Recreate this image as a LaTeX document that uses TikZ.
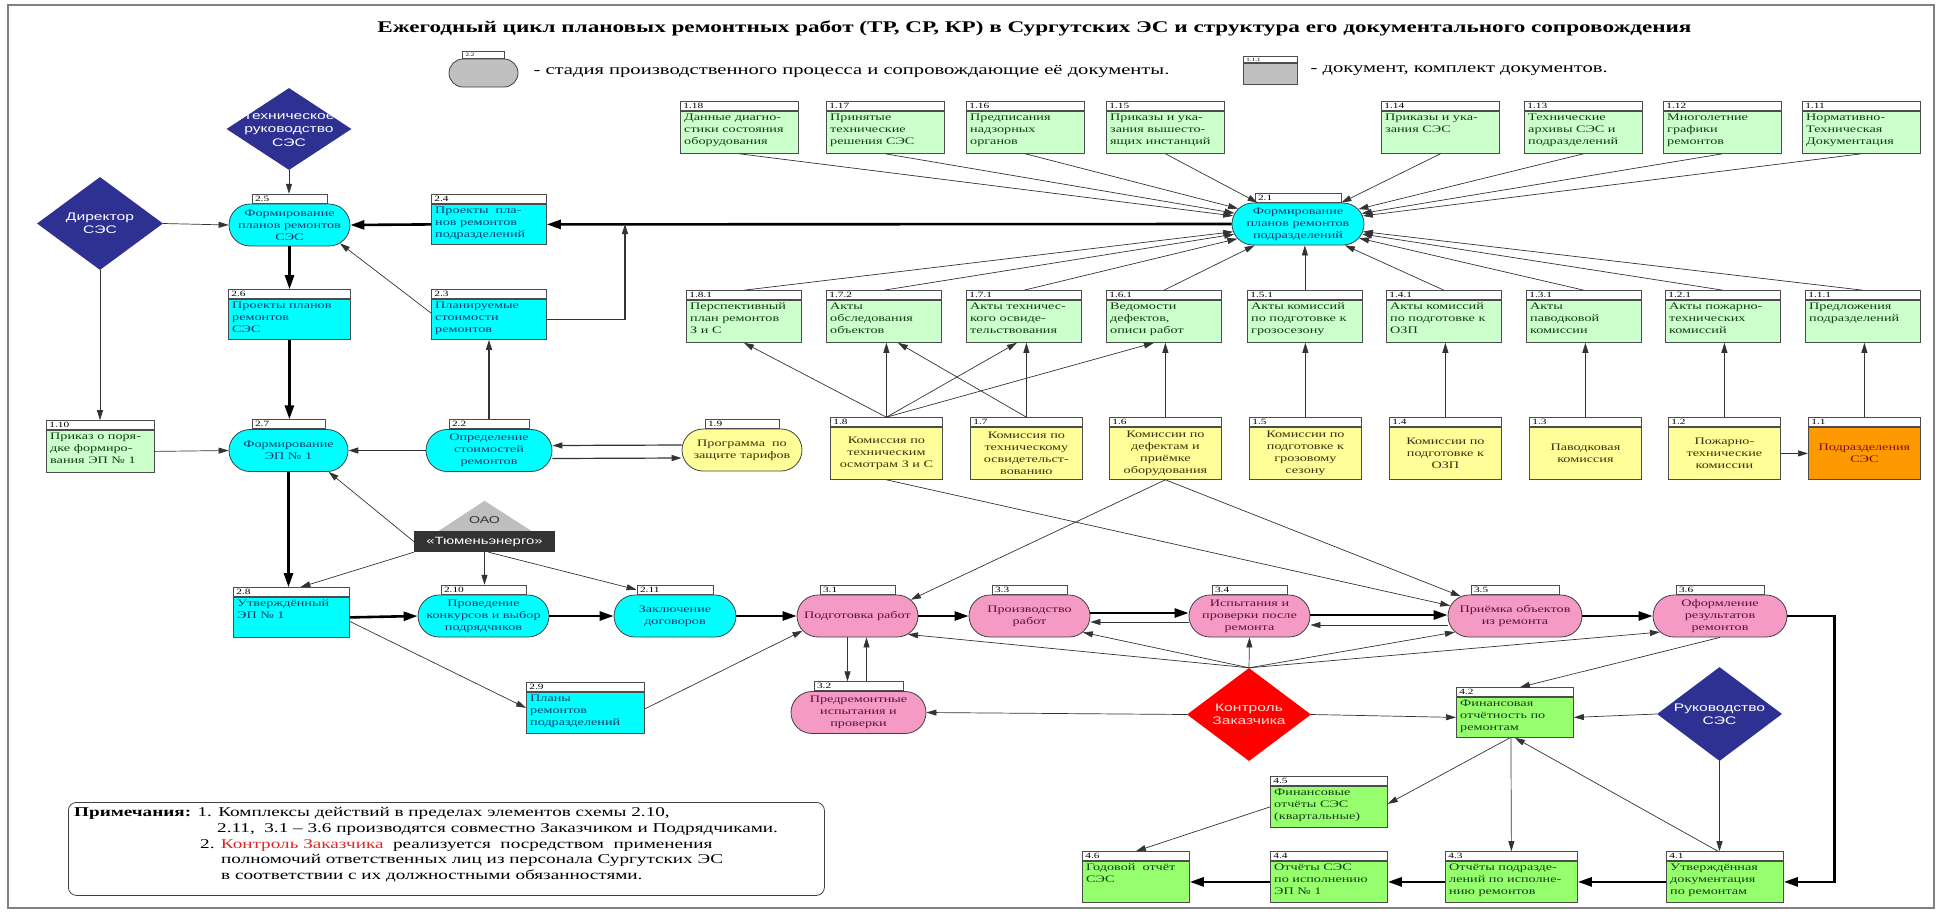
\documentclass[tikz,border=0pt]{standalone}
\usepackage{fontspec}
\setmainfont[FakeStretch=1.42]{Liberation Serif}
\newfontfamily\diafont[FakeStretch=1.42]{Liberation Sans}
\usetikzlibrary{shapes.geometric,shapes.misc,arrows.meta,positioning,calc}
\definecolor{cyanfill}{RGB}{0,255,255}
\definecolor{pinkfill}{RGB}{244,154,196}
\definecolor{yellowfill}{RGB}{255,255,153}
\definecolor{orangefill}{RGB}{255,153,0}
\definecolor{palegreen}{RGB}{204,255,204}
\definecolor{limegreen}{RGB}{150,255,110}
\definecolor{navydia}{RGB}{46,49,146}
\definecolor{reddia}{RGB}{255,0,0}
\definecolor{oaogray}{RGB}{190,190,190}
\definecolor{darkbox}{RGB}{51,51,51}
\definecolor{legendgray}{RGB}{192,192,192}
\definecolor{framegray}{RGB}{128,128,128}
\definecolor{cyantext}{RGB}{10,60,110}
\definecolor{pinktext}{RGB}{90,20,60}
\definecolor{greentext}{RGB}{20,60,20}
\definecolor{yellowtext}{RGB}{60,50,10}
\definecolor{orangetext}{RGB}{120,20,0}
\definecolor{ctrlred}{RGB}{220,40,40}
\tikzset{
  docbody/.style={rectangle,draw=black!70,line width=0.8pt,inner sep=0pt,anchor=north west},
  dochead/.style={rectangle,draw=black!70,fill=white,line width=0.8pt,inner xsep=3pt,inner ysep=0pt,
    minimum height=9pt,text height=6.5pt,text depth=1.5pt,align=left,anchor=south west,
    font=\fontsize{8}{8}\selectfont},
  doctext/.style={inner xsep=4pt,inner ysep=2.5pt,align=left,anchor=north west,font=\fontsize{10}{12}\selectfont},
  stage/.style={rounded rectangle,draw=black!75,line width=0.8pt,inner sep=0pt,minimum height=42pt},
  stagehead/.style={dochead,anchor=south},
  stlabel/.style={align=center,inner sep=0pt,font=\fontsize{10}{12}\selectfont},
  diabox/.style={diamond,draw=none,inner sep=0pt},
  diatext/.style={align=center,inner sep=0pt,font=\diafont\fontsize{11}{13.3}\selectfont},
  arr/.style={-{Triangle[length=10pt,width=6pt]},line width=0.7pt,draw=black!80},
  medarr/.style={arr,line width=1.2pt},
  fatarr/.style={-{Triangle[length=14pt,width=9pt]},line width=2.6pt,draw=black},
  notetext/.style={anchor=west,inner sep=0pt,font=\fontsize{13.5}{16}\selectfont}
}
\begin{document}
\begin{tikzpicture}[x=1pt,y=-1pt]
\useasboundingbox (0,0) rectangle (1943,911);
\draw[framegray,line width=1.5pt] (8,5) rectangle (1934,908);

% title and legend
\node[font=\fontsize{16.3}{20}\selectfont\bfseries] (title) at (1034.5,28)
  {Ежегодный цикл плановых ремонтных работ (ТР, СР, КР) в Сургутских ЭС и структура его документального сопровождения};
\node[stage,fill=legendgray,minimum width=69pt,minimum height=28pt] (lgst) at (483.5,73) {};
\node[stagehead,minimum height=7pt,text height=5pt,text depth=1pt,text width=36pt,font=\fontsize{5}{5}\selectfont] (lgsthd) at (lgst.north) {2.2};
\node[anchor=west,font=\fontsize{14.5}{16}\selectfont] (lgsttxt) at (530,71)
  {- стадия производственного процесса и сопровождающие её документы.};
\node[docbody,fill=legendgray,minimum width=54pt,minimum height=21pt] (lgdoc) at (1243,63) {};
\node[dochead,text width=48pt,minimum height=6pt,text height=4.5pt,text depth=0.5pt,font=\fontsize{5}{5}\selectfont] (lgdochd) at (lgdoc.north west) {1.1.1};
\node[anchor=west,font=\fontsize{14.5}{16}\selectfont] (lgdoctxt) at (1307,71) {- документ, комплект документов.};

% upper row of documents
\foreach \id/\num/\x/\txt in {
  1-18/1.18/680/{Данные диагно-\\стики состояния\\оборудования},
  1-17/1.17/826/{Принятые\\технические\\решения СЭС},
  1-16/1.16/966/{Предписания\\надзорных\\органов},
  1-15/1.15/1106/{Приказы и ука-\\зания вышесто-\\ящих инстанций},
  1-14/1.14/1381/{Приказы и ука-\\зания СЭС},
  1-13/1.13/1524/{Технические\\архивы СЭС и\\подразделений},
  1-12/1.12/1663/{Многолетние\\графики\\ремонтов},
  1-11/1.11/1802/{Нормативно-\\Техническая\\Документация}} {
  \node[docbody,fill=palegreen,minimum width=118pt,minimum height=42pt] (n\id) at (\x,111) {};
  \node[dochead,text width=112pt] (h\id) at (n\id.north west) {\num};
  \node[doctext,text=greentext] (t\id) at (n\id.north west) {\txt};
}

% acts of the commissions
\foreach \id/\num/\x/\txt in {
  1-8-1/1.8.1/686/{Перспективный\\план ремонтов\\З и С},
  1-7-2/1.7.2/826/{Акты\\обследования\\объектов},
  1-7-1/1.7.1/966/{Акты техничес-\\кого освиде-\\тельствования},
  1-6-1/1.6.1/1106/{Ведомости\\дефектов,\\описи работ},
  1-5-1/1.5.1/1247/{Акты комиссий\\по подготовке к\\грозосезону},
  1-4-1/1.4.1/1386/{Акты комиссий\\по подготовке к\\ОЗП},
  1-3-1/1.3.1/1526/{Акты\\паводковой\\комиссии},
  1-2-1/1.2.1/1665/{Акты пожарно-\\технических\\комиссий},
  1-1-1/1.1.1/1805/{Предложения\\подразделений}} {
  \node[docbody,fill=palegreen,minimum width=115pt,minimum height=42pt] (n\id) at (\x,300) {};
  \node[dochead,text width=109pt] (h\id) at (n\id.north west) {\num};
  \node[doctext,text=greentext] (t\id) at (n\id.north west) {\txt};
}

% commissions
\foreach \id/\num/\x/\txt in {
  1-8/1.8/830/{Комиссия по\\техническим\\осмотрам З и С},
  1-7/1.7/970/{Комиссия по\\техническому\\освидетельст-\\вованию},
  1-6/1.6/1109/{Комиссии по\\дефектам и\\приёмке\\оборудования},
  1-5/1.5/1249/{Комиссии по\\подготовке к\\грозовому\\сезону},
  1-4/1.4/1389/{Комиссии по\\подготовке к\\ОЗП},
  1-3/1.3/1529/{Паводковая\\комиссия},
  1-2/1.2/1668/{Пожарно-\\технические\\комиссии}} {
  \node[docbody,fill=yellowfill,text=yellowtext,minimum width=112pt,minimum height=52pt,
    align=center,font=\fontsize{10}{12}\selectfont] (n\id) at (\x,427) {\txt};
  \node[dochead,text width=106pt] (h\id) at (n\id.north west) {\num};
}
\node[docbody,fill=orangefill,text=orangetext,minimum width=112pt,minimum height=52pt,
  align=center,font=\fontsize{10}{12}\selectfont] (n1-1) at (1808,427) {Подразделения\\СЭС};
\node[dochead,text width=106pt] (h1-1) at (n1-1.north west) {1.1};

% other documents
\foreach \id/\num/\x/\y/\w/\h/\fc/\tc/\txt in {
  2-4/2.4/431/204/115/40/cyanfill/cyantext/{Проекты~ пла-\\нов ремонтов\\подразделений},
  2-6/2.6/228/299/122/40/cyanfill/cyantext/{Проекты планов\\ремонтов\\СЭС},
  2-3/2.3/431/299/115/40/cyanfill/cyantext/{Планируемые\\стоимости\\ремонтов},
  2-8/2.8/233/597/116/40/cyanfill/cyantext/{Утверждённый\\ЭП № 1},
  2-9/2.9/526/692/118/41/cyanfill/cyantext/{Планы\\ремонтов\\подразделений},
  1-10/1.10/46/430/108/42/palegreen/greentext/{Приказ о поря-\\дке формиро-\\вания ЭП № 1},
  4-2/4.2/1456/697/117/40/limegreen/greentext/{Финансовая\\отчётность по\\ремонтам},
  4-5/4.5/1270/786/117/41/limegreen/greentext/{Финансовые\\отчёты СЭС\\(квартальные)},
  4-1/4.1/1666/861/117/41/limegreen/greentext/{Утверждённая\\документация\\по ремонтам},
  4-3/4.3/1445/861/132/41/limegreen/greentext/{Отчёты подразде-\\лений по исполне-\\нию ремонтов},
  4-4/4.4/1270/861/117/41/limegreen/greentext/{Отчёты СЭС\\по исполнению\\ЭП № 1},
  4-6/4.6/1082/861/107/41/limegreen/greentext/{Годовой~ отчёт\\СЭС}} {
  \pgfmathsetmacro\hw{\w-6}
  \node[docbody,fill=\fc,minimum width=\w pt,minimum height=\h pt] (n\id) at (\x,\y) {};
  \node[dochead,text width=\hw pt] (h\id) at (n\id.north west) {\num};
  \node[doctext,text=\tc] (t\id) at (n\id.north west) {\txt};
}

% stages
\foreach \id/\num/\x/\y/\w/\fc/\tc/\txt in {
  2-5/2.5/289.5/225/121/cyanfill/cyantext/{Формирование\\планов ремонтов\\СЭС},
  2-1/2.1/1298/224/132/cyanfill/cyantext/{Формирование\\планов ремонтов\\подразделений},
  2-7/2.7/288.5/450.5/119/cyanfill/cyantext/{Формирование\\ЭП № 1},
  2-2/2.2/489/450.5/126/cyanfill/cyantext/{Определение\\стоимостей\\ремонтов},
  1-9/1.9/742/450/120/yellowfill/yellowtext/{Программа~ по\\защите тарифов},
  2-10/2.10/483.5/616/131/cyanfill/cyantext/{Проведение\\конкурсов и выбор\\подрядчиков},
  2-11/2.11/675/616/122/cyanfill/cyantext/{Заключение\\договоров},
  3-1/3.1/857.5/616/121/pinkfill/pinktext/{Подготовка работ},
  3-3/3.3/1029.5/616/121/pinkfill/pinktext/{Производство\\работ},
  3-4/3.4/1249.5/616/121/pinkfill/pinktext/{Испытания и\\проверки после\\ремонта},
  3-5/3.5/1515/616/134/pinkfill/pinktext/{Приёмка объектов\\из ремонта},
  3-6/3.6/1720/616/134/pinkfill/pinktext/{Оформление\\результатов\\ремонтов},
  3-2/3.2/858.5/712.5/135/pinkfill/pinktext/{Предремонтные\\испытания и\\проверки}} {
  \pgfmathsetmacro\hw{\w-52}
  \node[stage,fill=\fc,minimum width=\w pt] (s\id) at (\x,\y) {};
  \node[stagehead,text width=\hw pt] (h\id) at (s\id.north) {\num};
  \node[stlabel,text=\tc] (l\id) at (s\id) {\txt};
}

% managers
\node[diabox,fill=navydia,minimum width=125pt,minimum height=82pt] (tech) at (289,129) {};
\node[diatext,text=white] (techlbl) at (tech) {Техническое\\руководство\\СЭС};
\node[diabox,fill=navydia,minimum width=126pt,minimum height=93pt] (dir) at (100,223.5) {};
\node[diatext,text=white] (dirlbl) at (dir) {Директор\\СЭС};
\node[diabox,fill=reddia,minimum width=124pt,minimum height=93pt] (ctrl) at (1249,714.5) {};
\node[diatext,text=red!15] (ctrllbl) at (ctrl) {Контроль\\Заказчика};
\node[diabox,fill=navydia,minimum width=125pt,minimum height=94pt] (rk) at (1719.5,714) {};
\node[diatext,text=white] (rklbl) at (rk) {Руководство\\СЭС};
\node[rectangle,fill=darkbox,text=white,minimum width=141pt,minimum height=21pt,inner sep=0pt,
  font=\diafont\fontsize{10.5}{12}\selectfont] (ttt) at (484.5,541.5) {«Тюменьэнерго»};
\fill[oaogray] ($(ttt.north west)+(25,0)$) -- ($(ttt.north)+(0,-30)$) -- ($(ttt.north east)+(-24,0)$) -- cycle;
\node[font=\diafont\fontsize{10}{12}\selectfont,text=black!80] (oao) at ($(ttt.north)+(0,-11)$) {ОАО};

% notes
\node[docbody,draw=black!75,rounded corners=8pt,minimum width=756pt,minimum height=93pt] (notes) at (68,802) {};
\node[notetext] (note1) at (74,813) {\textbf{Примечания:} 1. Комплексы действий в пределах элементов схемы 2.10,};
\node[notetext] (note2) at (217,829) {2.11,~ 3.1 – 3.6 производятся совместно Заказчиком и Подрядчиками.};
\node[notetext] (note3) at (200,845) {2. \textcolor{ctrlred}{Контроль Заказчика}~ реализуется~ посредством~ применения};
\node[notetext] (note4) at (221,860) {полномочий ответственных лиц из персонала Сургутских ЭС};
\node[notetext] (note5) at (221,876) {в соответствии с их должностными обязанностями.};

% inputs of 2.1
\foreach \id in {1-18,1-17,1-16,1-15,1-14,1-13,1-12,1-11}
  \draw[arr] (n\id.south) -- (s2-1);
\foreach \id in {1-8-1,1-7-2,1-7-1,1-6-1,1-4-1,1-3-1,1-2-1,1-1-1}
  \draw[arr] (h\id.north) -- (s2-1);
\draw[arr] (h1-5-1.north) -- (h1-5-1.north |- s2-1.south);

% commissions to their acts
\draw[arr] (h1-8.north) -- (n1-8-1.south);
\draw[arr] (h1-8.north) -- (h1-8.north |- n1-7-2.south);
\draw[arr] (h1-8.north) -- ([xshift=-7pt]n1-7-1.south);
\draw[arr] (h1-8.north) -- ([xshift=-10pt]n1-6-1.south);
\draw[arr] (h1-7.north) -- ([xshift=14pt]n1-7-2.south);
\draw[arr] (h1-7.north) -- (h1-7.north |- n1-7-1.south);
\foreach \a/\b in {1-6/1-6-1,1-5/1-5-1,1-4/1-4-1,1-3/1-3-1,1-2/1-2-1,1-1/1-1-1}
  \draw[arr] (h\a.north) -- (h\a.north |- n\b.south);
\draw[arr] (n1-2.east) -- (n1-1.west);

% main flow
\draw[fatarr] (s2-1.west) -- (n2-4.east);
\draw[fatarr] (n2-4.west) -- (s2-5.east);
\draw[fatarr] (s2-5.south) -- (s2-5.south |- h2-6.north);
\draw[fatarr] (n2-6.south) -- (n2-6.south |- h2-7.north);
\draw[fatarr] (s2-7.south) -- (s2-7.south |- h2-8.north);
\draw[fatarr] (n2-8.east) -- (s2-10.west);
\draw[fatarr] (s2-10.east) -- (s2-11.west);
\draw[fatarr] (s2-11.east) -- (s3-1.west);
\draw[fatarr] (s3-1.east) -- (s3-3.west);
\draw[fatarr] ([yshift=3pt]s3-3.east) -- ([yshift=3pt]s3-4.west);
\draw[arr] ([yshift=-6pt]s3-4.west) -- ([yshift=-6pt]s3-3.east);
\draw[fatarr] ([yshift=1pt]s3-4.east) -- ([yshift=1pt]s3-5.west);
\draw[arr] ([yshift=-9pt]s3-5.west) -- ([yshift=-9pt]s3-4.east);
\draw[fatarr] (s3-5.east) -- (s3-6.west);
\draw[fatarr] (s3-6.east) -- ++(47,0) |- (n4-1.east);
\draw[fatarr] (n4-1.west) -- (n4-3.east);
\draw[fatarr] (n4-3.west) -- (n4-4.east);
\draw[fatarr] (n4-4.west) -- (n4-6.east);

% cost loop
\draw[medarr] (s2-2.west) -- (s2-7.east);
\draw[medarr] ([yshift=5pt]s1-9.west) -- ([yshift=5pt]s2-2.east);
\draw[medarr] ([yshift=-8pt]s2-2.east) -- ([yshift=-8pt]s1-9.west);
\draw[medarr] (h2-2.north) -- (h2-2.north |- n2-3.south);
\coordinate (jn) at (625,224);
\draw[medarr] (n2-3.east) -| (jn);

% control links
\draw[arr] (tech.south) -- (tech.south |- h2-5.north);
\draw[arr] (dir.east) -- (s2-5.west);
\draw[arr] (dir.south) -- (dir.south |- h1-10.north);
\draw[arr] (n1-10.east) -- (s2-7.west);
\draw[arr] ([yshift=-14pt]n2-3.north west) -- (s2-5.-20);
\draw[arr] (ttt.west) -- (s2-7.-28);
\draw[arr] (ttt.south west) -- ([xshift=9pt]h2-8.north);
\draw[arr] (ttt.south) -- (ttt.south |- h2-10.north);
\draw[arr] ([xshift=4pt]ttt.south) -- (h2-11.west);
\draw[arr] ([yshift=-4pt]n2-8.east) -- ([yshift=5pt]n2-9.west);
\draw[arr] ([yshift=4pt]n2-9.east) -- (s3-1.195);
\draw[arr] ([xshift=-10pt]s3-1.south) -- ([xshift=-11pt]h3-2.north);
\draw[arr] ([xshift=8pt]h3-2.north) -- ([xshift=9pt]s3-1.south);
\draw[arr] (ctrl.west) -- (s3-2.east);
\draw[arr] (ctrl.north) -- (s3-4.south);
\draw[arr] (ctrl.north) -- (s3-3.-17);
\draw[arr] (ctrl.north) -- (s3-1.-20);
\draw[arr] (ctrl.north) -- (s3-5.195);
\draw[arr] (ctrl.north) -- (s3-6.195);
\draw[arr] (ctrl.east) -- (n4-2.west);
\draw[arr] (n1-8.south) -- (s3-5.171);
\draw[arr] (n1-6.south) -- (s3-5.160);
\draw[arr] (n1-6.south) -- (s3-1.17);

% reporting
\draw[arr] (s3-6.south) -- ([xshift=5pt]h4-2.north);
\draw[arr] (rk.west) -- (n4-2.east);
\draw[arr] (rk.south) -- (rk.south |- h4-1.north);
\draw[arr] ([xshift=-7pt]h4-1.north) -- (n4-2.south);
\draw[arr] ([xshift=-4pt]n4-2.south) -- (h4-3.north);
\draw[arr] ([xshift=-5pt]n4-2.south) -- ([yshift=3pt]n4-5.east);
\draw[arr] (n4-5.west) -- (h4-6.north);
\end{tikzpicture}
\end{document}
